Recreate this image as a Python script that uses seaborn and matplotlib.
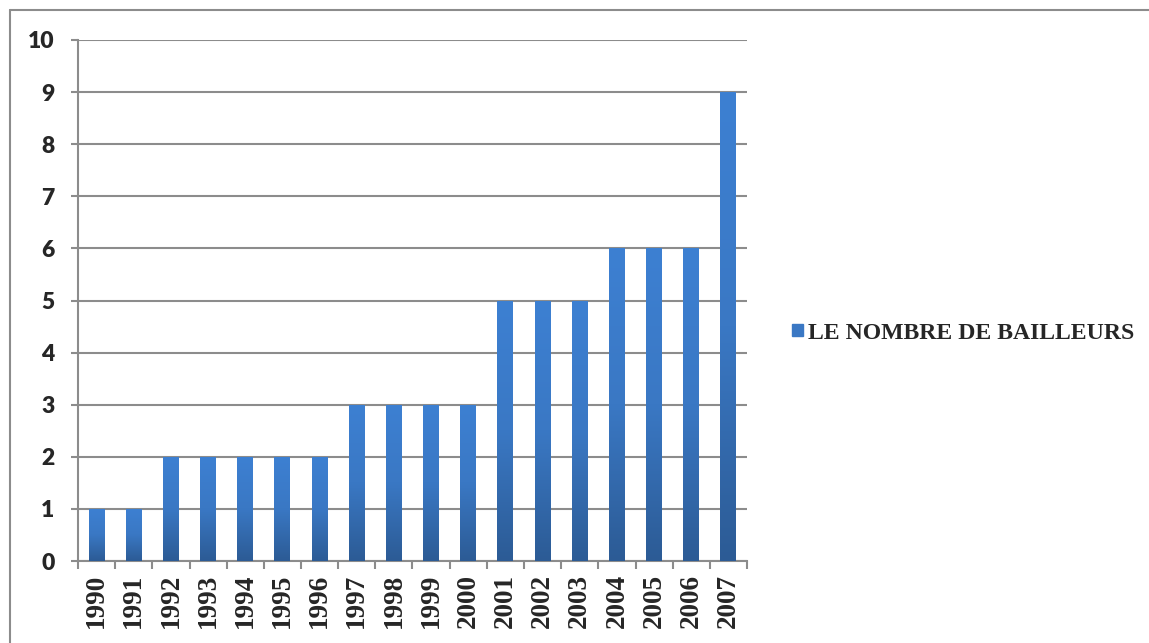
import numpy as np
import pandas as pd
import seaborn as sns
import matplotlib.pyplot as plt
from matplotlib.lines import Line2D
from matplotlib.colors import LinearSegmentedColormap

years = ["1990", "1991", "1992", "1993", "1994", "1995", "1996", "1997", "1998",
         "1999", "2000", "2001", "2002", "2003", "2004", "2005", "2006", "2007"]
bailleurs = [1, 1, 2, 2, 2, 2, 2, 3, 3, 3, 3, 5, 5, 5, 6, 6, 6, 9]
series_name = "LE NOMBRE DE BAILLEURS"

df = pd.DataFrame({"Année": years, "Bailleurs": bailleurs})

sns.set_style("white")
grid_gray = "#8c8c8c"

fig = plt.figure(figsize=(11.49, 6.43), dpi=100)
ax = fig.add_axes([78 / 1149, 82 / 643, 669 / 1149, 521 / 643])

sns.barplot(data=df, x="Année", y="Bailleurs", color="#3a78c4", width=0.43,
            saturation=1, label=series_name, ax=ax, zorder=3)

# vertical gradient on each bar (light on top, darker at the bottom)
grad = LinearSegmentedColormap.from_list("bar", ["#2c5b95", "#3a78c4", "#3d80d2"])
gradient = np.linspace(0, 1, 256).reshape(-1, 1)
for patch in ax.patches:
    x0, y0 = patch.get_x(), patch.get_y()
    w, h = patch.get_width(), patch.get_height()
    im = ax.imshow(gradient, cmap=grad, aspect="auto", origin="lower",
                   extent=[x0, x0 + w, y0, y0 + h], zorder=4)
    im.set_clip_path(patch)
    patch.set_edgecolor("none")

ax.set_xlim(-0.5, len(years) - 0.5)
ax.set_ylim(0, 10)
ax.set_yticks(range(0, 11))
ax.set_xlabel("")
ax.set_ylabel("")

ax.yaxis.grid(True, color=grid_gray, linewidth=1.5, zorder=0)
ax.set_axisbelow(True)
for side in ["top", "right"]:
    ax.spines[side].set_visible(False)
for side in ["left", "bottom"]:
    ax.spines[side].set_color(grid_gray)
    ax.spines[side].set_linewidth(1.5)

ax.tick_params(axis="y", left=True, length=5, width=1.5, color=grid_gray, pad=12)
ax.set_xticks(np.arange(-0.5, len(years), 1), minor=True)
ax.tick_params(axis="x", which="major", length=0, pad=9)
ax.tick_params(axis="x", which="minor", bottom=True, length=6, width=1.5, color=grid_gray)

for lab in ax.get_yticklabels():
    lab.set_fontfamily("Lato")
    lab.set_fontweight("heavy")
    lab.set_fontsize(16.5)
for lab in ax.get_xticklabels():
    lab.set_fontfamily("Liberation Serif")
    lab.set_fontweight("bold")
    lab.set_fontsize(19.5)
    lab.set_rotation(90)

if ax.legend_:
    ax.legend_.remove()
handle = plt.Rectangle((0, 0), 1, 1, color="#3a78c4")
fig.legend([handle], [series_name], loc="center left", bbox_to_anchor=(0.671, 0.482),
           frameon=False, handlelength=0.45, handleheight=0.45, handletextpad=0.2,
           prop={"family": "Liberation Serif", "weight": "bold", "size": 17.1})

# outer chart frame
fig.add_artist(Line2D([10 / 1149, 10 / 1149], [0, 1 - 10 / 643], color=grid_gray, linewidth=1.5))
fig.add_artist(Line2D([10 / 1149, 1], [1 - 10 / 643, 1 - 10 / 643], color=grid_gray, linewidth=1.5))

fig.savefig("out.png", dpi=100)
